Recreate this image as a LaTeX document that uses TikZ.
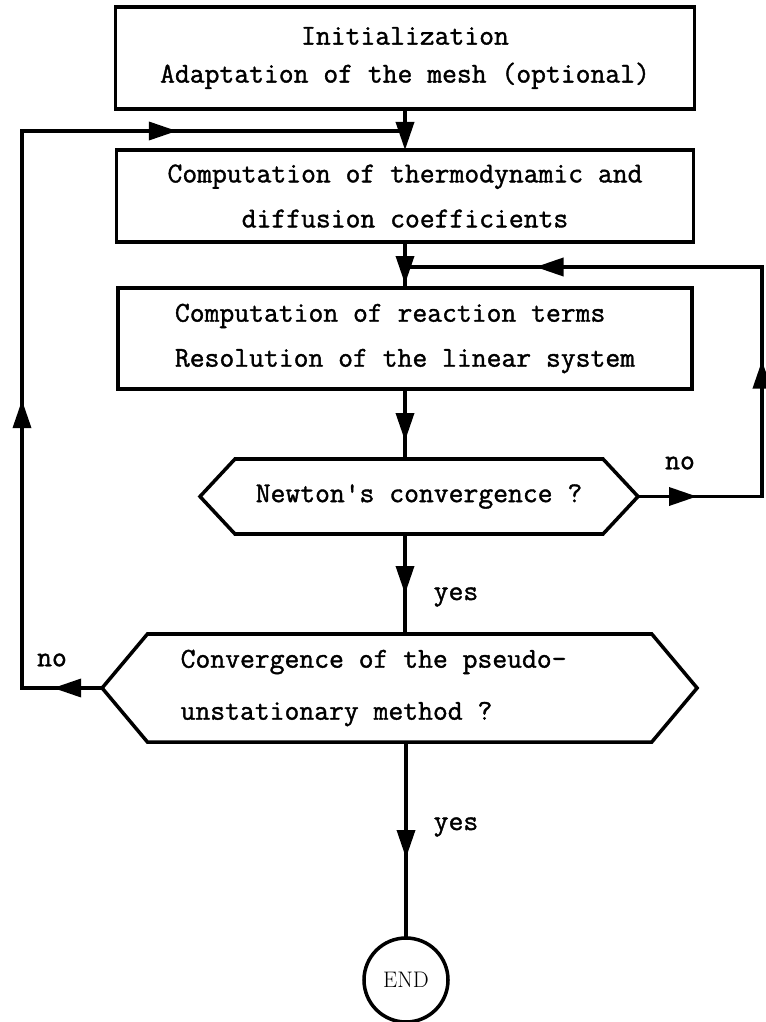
\documentclass[tikz,border=0pt]{standalone}
\usepackage{fontspec}
\setmonofont{Latin Modern Mono}[FakeBold=1.3]
\usetikzlibrary{arrows.meta,shapes.symbols,decorations.markings}

\begin{document}
\begin{tikzpicture}[line width=2.5pt,
  every node/.style={font=\fontsize{20.5}{27}\selectfont\ttfamily, inner sep=0pt, outer sep=0pt},
  lines/.style={font=\fontsize{20.5}{#1}\selectfont\ttfamily},
  box/.style={draw, rectangle, align=center},
  test/.style={draw, signal, signal to=west and east},
  tipat/.style={postaction={decorate, decoration={markings, mark=at position #1 with {\arrow{Triangle[length=0.7cm,width=0.45cm]}}}}},
  endtip/.style={-{Triangle[length=0.7cm,width=0.45cm]}}]
\useasboundingbox (0,0) rectangle (19.15,-25.55);

\node[box, minimum width=14.475cm, minimum height=2.55cm] (init) at (10.125,-1.45) {Initialization\\Adaptation of the mesh (optional)};
\node[box, lines=32pt, minimum width=14.425cm, minimum height=2.3cm] (coeff) at (10.125,-4.9) {Computation of thermodynamic and\\diffusion coefficients};
\node[box, lines=32pt, align=left, minimum width=14.35cm, minimum height=2.525cm] (react) at (10.125,-8.4625) {Computation of reaction terms\\Resolution of the linear system};
\node[test, signal pointer angle=94, minimum width=10.95cm, minimum height=1.875cm] (newton) at (10.475,-12.4125) {Newton's convergence ?};
\node[test, lines=37pt, signal pointer angle=100, align=left, minimum width=14.875cm, minimum height=2.7cm] (conv) at (9.99,-17.2) {Convergence of the pseudo-\hspace*{1.3cm}\\unstationary method ?};
\node[draw, circle, minimum size=2.1cm, font=\fontsize{16}{18}\selectfont\rmfamily] (theend) at (10.15,-24.5) {END};

\coordinate (jtop) at (10.125,-3.275);
\coordinate (jmid) at (10.125,-6.675);
\coordinate (lft) at (0.55,0);
\coordinate (rgt) at (19.05,0);

\node (noA) at (17.0,-11.575) {no};
\node (yesA) at (11.4,-14.925) {yes};
\node (noB) at (1.3,-16.5) {no};
\node (yesB) at (11.4,-20.675) {yes};

\draw[endtip] (init.south) -- (coeff.north);
\draw[tipat=1.05cm] (coeff.south) -- (react.north);
\draw[tipat=1.3cm] (react.south) -- (react.south |- newton.north);
\draw[tipat=1.5cm] (react.south |- newton.south) -- (react.south |- conv.north);
\draw[tipat=2.9cm] (theend.north |- conv.south) -- (theend.north);

\draw[tipat=1.225cm, tipat=9.2cm, tipat=19.8cm] (conv.west) -- (conv.west -| lft) |- (jtop);
\draw[tipat=1.475cm, tipat=6.5cm, tipat=14.5cm] (newton.east) -- (newton.east -| rgt) |- (jmid);
\end{tikzpicture}
\end{document}
